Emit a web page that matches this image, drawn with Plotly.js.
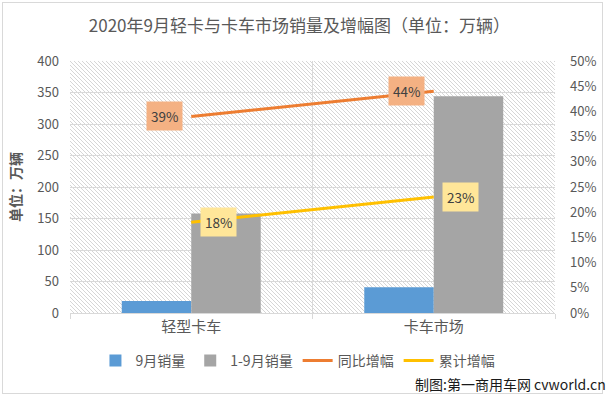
<!DOCTYPE html>
<html>
<head>
<meta charset="utf-8">
<script src="https://cdn.plot.ly/plotly-3.0.1.min.js"></script>
<style>
  html, body { margin: 0; padding: 0; background: #ffffff; }
  #wrap { position: relative; width: 611px; height: 399px; overflow: hidden; background: #ffffff; }
  #frame { position: absolute; left: 2px; top: 2px; width: 601px; height: 392px; border: 1px solid #d9d9d9; box-sizing: border-box; }
  #hatch { position: absolute; left: 70px; top: 61px; width: 485px; height: 252px; image-rendering: pixelated; }
  #chart { position: absolute; left: 0; top: 0; width: 611px; height: 399px; }
</style>
</head>
<body>
<div id="wrap">
  <div id="frame"></div>
  <div id="hatch"></div>
  <div id="chart"></div>
</div>
<script>
// ---- data ----
const categories = ['轻型卡车', '卡车市场'];
const septSales = [19, 41];          // 9月销量 (万辆)
const ytdSales = [158, 344];         // 1-9月销量 (万辆)
const yoyGrowth = [0.39, 0.44];      // 同比增幅
const ytdGrowth = [0.18, 0.23];      // 累计增幅
const seriesNames = ['9月销量', '1-9月销量', '同比增幅', '累计增幅'];
const yTicks = [0, 50, 100, 150, 200, 250, 300, 350, 400];

const FONT = '"Noto Sans CJK SC", "Noto Sans", sans-serif';
const GREY = '#595959';

// hatch tile for the plot-area background (diagonal "\" lines)
(function () {
  const c = document.createElement('canvas');
  c.width = 4; c.height = 4;
  const g = c.getContext('2d');
  g.fillStyle = '#ffffff'; g.fillRect(0, 0, 4, 4);
  g.fillStyle = '#d6d6d6';
  for (let i = 0; i < 4; i++) g.fillRect(i, i, 1, 1);
  const h = document.getElementById('hatch');
  h.style.backgroundImage = 'url(' + c.toDataURL() + ')';
  h.style.backgroundRepeat = 'repeat';
})();

const traces = [
  { type: 'bar', name: seriesNames[0], x: categories, y: septSales,
    marker: { color: '#5B9BD5' }, hoverinfo: 'skip' },
  { type: 'bar', name: seriesNames[1], x: categories, y: ytdSales,
    marker: { color: '#A5A5A5' }, hoverinfo: 'skip' },
  { type: 'scatter', mode: 'lines', name: seriesNames[2], x: categories, y: yoyGrowth,
    yaxis: 'y2', line: { color: '#ED7D31', width: 3 }, hoverinfo: 'skip' },
  { type: 'scatter', mode: 'lines', name: seriesNames[3], x: categories, y: ytdGrowth,
    yaxis: 'y2', line: { color: '#FFC000', width: 3 }, hoverinfo: 'skip' }
];

const pct = v => Math.round(v * 100) + '%';
const annotations = [];
categories.forEach((c, i) => {
  annotations.push({ x: c, y: yoyGrowth[i], xref: 'x', yref: 'y2', text: pct(yoyGrowth[i]),
    showarrow: false, xshift: -27, bgcolor: '#F4B183', borderpad: 4,
    font: { family: FONT, size: 13.5, color: '#404040' } });
  annotations.push({ x: c, y: ytdGrowth[i], xref: 'x', yref: 'y2', text: pct(ytdGrowth[i]),
    showarrow: false, xshift: 27, bgcolor: '#FFE699', borderpad: 4,
    font: { family: FONT, size: 13.5, color: '#404040' } });
});
annotations.push({ xref: 'paper', yref: 'paper', x: 1.11, y: -0.282, xanchor: 'right', yanchor: 'middle',
  text: '制图:第一商用车网 cvworld.cn', showarrow: false,
  font: { family: FONT, size: 14, color: '#1a1a1a' } });

const layout = {
  width: 611, height: 399,
  margin: { l: 70, r: 56, t: 61, b: 86 },
  paper_bgcolor: 'rgba(0,0,0,0)',
  plot_bgcolor: 'rgba(0,0,0,0)',
  font: { family: FONT, color: GREY },
  title: { text: '2020年9月轻卡与卡车市场销量及增幅图（单位：万辆）', x: 0.49, xanchor: 'center', y: 0.934, yanchor: 'middle',
    font: { family: FONT, size: 17, color: GREY } },
  barmode: 'group', bargap: 0.427, bargroupgap: 0,
  showlegend: true,
  legend: { orientation: 'h', x: 0.47, xanchor: 'center', y: -0.19, yanchor: 'middle',
    font: { family: FONT, size: 14, color: GREY }, itemwidth: 30, traceorder: 'normal' },
  xaxis: { type: 'category', tickson: 'boundaries', ticks: 'outside', ticklen: 5, tickcolor: '#d9d9d9',
    showgrid: true, gridcolor: '#d9d9d9', gridwidth: 1, showline: true, linecolor: '#d9d9d9', linewidth: 1,
    tickfont: { family: FONT, size: 15, color: GREY }, fixedrange: true },
  yaxis: { range: [0, 400], tickvals: yTicks, showgrid: true, gridcolor: '#d9d9d9', gridwidth: 1,
    zeroline: false, showline: false, ticks: '', ticklabelstandoff: 10,
    tickfont: { family: FONT, size: 13, color: GREY },
    title: { text: '单位：万辆', standoff: 12, font: { family: FONT, size: 14, color: GREY, weight: 'bold' } } },
  yaxis2: { overlaying: 'y', side: 'right', range: [0, 0.5], dtick: 0.05, tickformat: '.0%',
    showgrid: false, zeroline: false, showline: false, ticks: '', ticklabelstandoff: 14,
    tickfont: { family: FONT, size: 13, color: GREY } },
  annotations: annotations
};

Plotly.newPlot('chart', traces, layout, { staticPlot: true, displayModeBar: false });
</script>
</body>
</html>
